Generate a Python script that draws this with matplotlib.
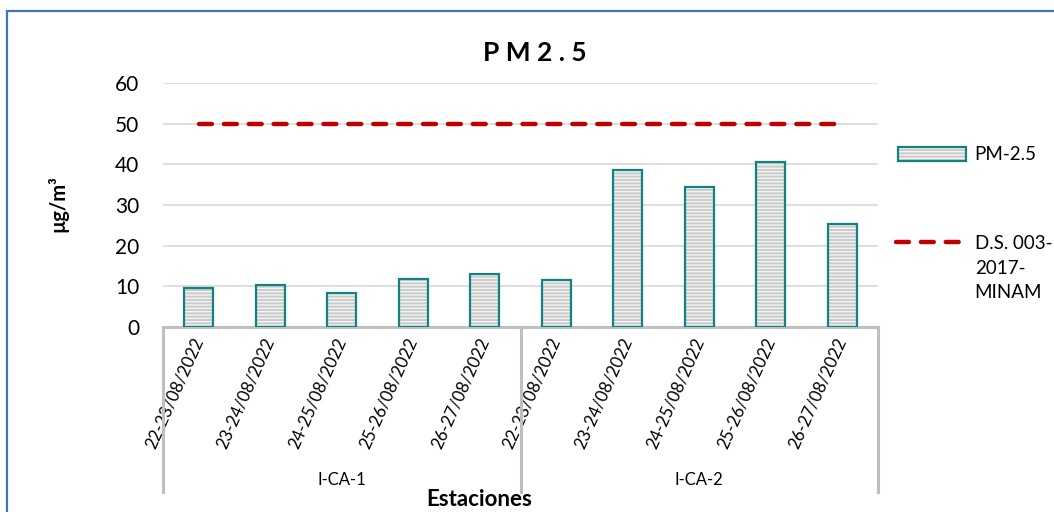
import matplotlib
matplotlib.use("Agg")
import matplotlib.pyplot as plt
from matplotlib.patches import Rectangle
from matplotlib.legend_handler import HandlerTuple

plt.rcParams['font.family'] = ['Lato', 'DejaVu Sans']
plt.rcParams['hatch.linewidth'] = 1.0

fechas = ["22-23/08/2022", "23-24/08/2022", "24-25/08/2022", "25-26/08/2022", "26-27/08/2022",
          "22-23/08/2022", "23-24/08/2022", "24-25/08/2022", "25-26/08/2022", "26-27/08/2022"]
estaciones = ["I-CA-1", "I-CA-2"]
pm25 = [9.7, 10.3, 8.4, 11.8, 13.0, 11.6, 38.6, 34.4, 40.5, 25.4]
norma = [50] * 10

fig = plt.figure(figsize=(10.54, 5.12), dpi=100)
ax = fig.add_axes([163/1054, 1-327/512, (878-163)/1054, 244/512])

x = list(range(len(fechas)))
b_fill = ax.bar(x, pm25, width=0.41, color="#CBCBCB", edgecolor="#F4F4F4", hatch="-----",
                linewidth=0, zorder=2)
b_edge = ax.bar(x, pm25, width=0.41, facecolor="none", edgecolor="#118282",
                linewidth=1.6, zorder=3)
ln, = ax.plot(x, norma, color="#C00000", lw=3.2, dashes=(2.9, 2.7),
              dash_capstyle="round", zorder=4)

ax.set_xlim(-0.5, 9.5)
ax.set_ylim(0, 60)
ax.set_yticks(range(0, 61, 10))
ax.yaxis.grid(True, color="#D9D9D9", lw=1.2, zorder=0)
ax.set_axisbelow(True)
for s in ["top", "right", "left"]:
    ax.spines[s].set_visible(False)
ax.spines["bottom"].set_color("#BFBFBF")
ax.spines["bottom"].set_linewidth(2.2)
ax.tick_params(axis="y", length=0, pad=17, labelsize=15)
ax.tick_params(axis="x", length=0, pad=8)
ax.set_xticks(x)
ax.set_xticklabels(fechas, rotation=66, ha="right", va="center",
                   rotation_mode="anchor", fontsize=12.2)

# separadores de grupo y etiquetas de estacion
for xs in [-0.5, 4.5, 9.5]:
    ax.plot([xs, xs], [0, -0.676], transform=ax.get_xaxis_transform(),
            color="#BFBFBF", lw=2.2, clip_on=False)
for i, est in enumerate(estaciones):
    ax.text(2 + 5*i, -0.627, est, transform=ax.get_xaxis_transform(),
            ha="center", va="center", fontsize=12)

fig.text(479/1054, 1-500/512, "Estaciones", ha="center", va="center",
         fontsize=16, fontweight="bold")
fig.text(58/1054, 1-204/512, "µg/m³", ha="center", va="center", rotation=90,
         fontsize=14.5, fontweight="bold")
fig.text(535/1054, 1-53/512, "P M 2 . 5", ha="center", va="center",
         fontsize=19, fontweight="bold")

leg1 = ax.legend([(b_fill[0], b_edge[0])], ["PM-2.5"],
                 handler_map={tuple: HandlerTuple(ndivide=1)},
                 loc="center left", bbox_to_anchor=(898/1054, 1-155/512),
                 bbox_transform=fig.transFigure, frameon=False, fontsize=13.5,
                 handlelength=3.6, handleheight=0.7, handletextpad=0.45,
                 borderpad=0, borderaxespad=0)
ax.add_artist(leg1)
leg2 = ax.legend([ln], ["D.S. 003-\n2017-\nMINAM"],
                 loc="upper left", bbox_to_anchor=(896/1054, 1-235/512),
                 bbox_transform=fig.transFigure, frameon=False, fontsize=13.5,
                 handlelength=3.6, handletextpad=0.6, borderpad=0, borderaxespad=0)
for t in leg2.get_texts():
    t.set_linespacing(1.55)
# simbolo alineado con la primera linea del texto
for hp in leg2._legend_handle_box.get_children()[0].get_children():
    hp.align = "top"

fig.add_artist(Rectangle((7/1054, -0.1), 1.2, 1-11/512+0.1, transform=fig.transFigure,
                         fill=False, edgecolor="#4472C4", lw=1.6))

fig.savefig("out.png", dpi=100)
